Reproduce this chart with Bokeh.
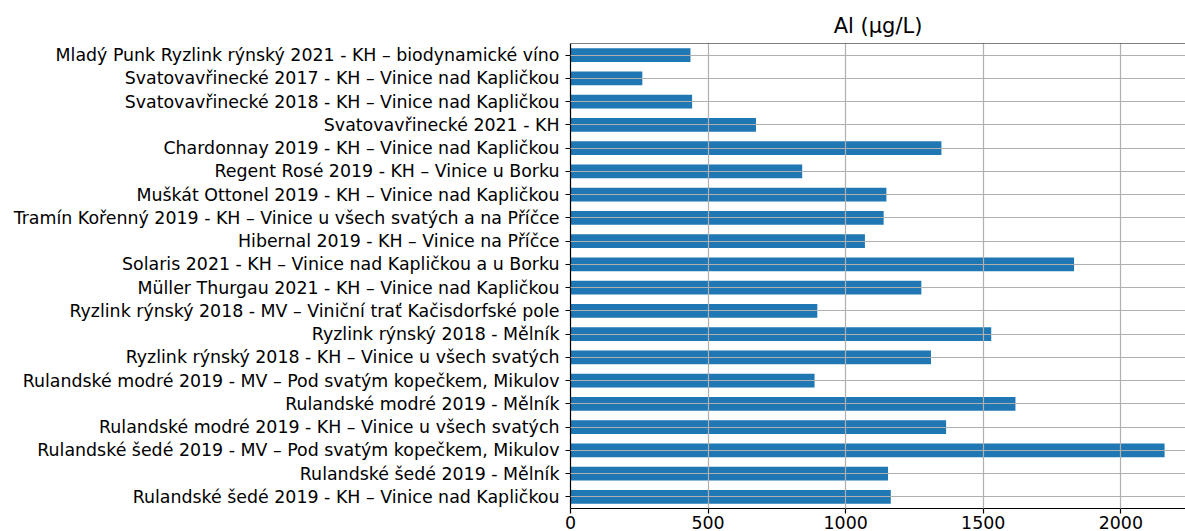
from bokeh.plotting import figure
from bokeh.models import Range1d, FixedTicker, Span, ColumnDataSource
from bokeh.embed import file_html
from bokeh.resources import INLINE

labels = [
    "Mladý Punk Ryzlink rýnský 2021 - KH – biodynamické víno",
    "Svatovavřinecké 2017 - KH – Vinice nad Kapličkou",
    "Svatovavřinecké 2018 - KH – Vinice nad Kapličkou",
    "Svatovavřinecké 2021 - KH",
    "Chardonnay 2019 - KH – Vinice nad Kapličkou",
    "Regent Rosé 2019 - KH – Vinice u Borku",
    "Muškát Ottonel 2019 - KH – Vinice nad Kapličkou",
    "Tramín Kořenný 2019 - KH – Vinice u všech svatých a na Příčce",
    "Hibernal 2019 - KH – Vinice na Příčce",
    "Solaris 2021 - KH – Vinice nad Kapličkou a u Borku",
    "Müller Thurgau 2021 - KH – Vinice nad Kapličkou",
    "Ryzlink rýnský 2018 - MV – Viniční trať Kačisdorfské pole",
    "Ryzlink rýnský 2018 - Mělník",
    "Ryzlink rýnský 2018 - KH – Vinice u všech svatých",
    "Rulandské modré 2019 - MV – Pod svatým kopečkem, Mikulov",
    "Rulandské modré 2019 - Mělník",
    "Rulandské modré 2019 - KH – Vinice u všech svatých",
    "Rulandské šedé 2019 - MV – Pod svatým kopečkem, Mikulov",
    "Rulandské šedé 2019 - Mělník",
    "Rulandské šedé 2019 - KH – Vinice nad Kapličkou",
]
al_values = [436, 261, 442, 674, 1348, 842, 1148, 1138, 1070, 1830,
             1275, 897, 1529, 1310, 887, 1617, 1365, 2159, 1154, 1164]
x_ticks = [0, 500, 1000, 1500, 2000]
title_text = "Al (µg/L)"

n = len(labels)
positions = list(range(n))
src = ColumnDataSource(dict(y=positions, right=al_values))

FONT = "DejaVu Sans"

p = figure(
    frame_width=615, frame_height=465,
    min_border_left=570, min_border_right=0, min_border_top=43, min_border_bottom=0,
    x_range=Range1d(0, 2235), y_range=Range1d(n - 0.5, -0.5),
    output_backend="svg", toolbar_location=None, title=title_text,
)
p.hbar(y="y", right="right", left=0, height=0.6, source=src,
       fill_color="#1f77b4", line_color=None)

p.title.align = "center"
p.title.text_font = FONT
p.title.text_font_size = "21px"
p.title.text_font_style = "normal"
p.title.text_color = "black"
p.title.standoff = 11

p.outline_line_color = None
p.background_fill_color = "white"
p.border_fill_color = "white"

top_spine = Span(location=-0.5, dimension="width", line_color="black", line_width=1.2)
p.add_layout(top_spine)

p.yaxis.ticker = FixedTicker(ticks=positions)
p.yaxis.major_label_overrides = {i: lab for i, lab in enumerate(labels)}
p.xaxis.ticker = FixedTicker(ticks=x_ticks)

for ax in (p.xaxis, p.yaxis):
    ax.axis_line_color = "black"
    ax.axis_line_width = 1.2
    ax.major_tick_line_color = "black"
    ax.major_tick_line_width = 1.2
    ax.major_tick_in = 0
    ax.major_tick_out = 5
    ax.minor_tick_line_color = None
    ax.major_label_text_font = FONT
    ax.major_label_text_font_size = "17.4px"
    ax.major_label_text_color = "black"

p.yaxis.major_label_standoff = 6
p.xaxis.major_label_standoff = 2

p.xgrid.grid_line_color = "#b0b0b0"
p.ygrid.grid_line_color = "#b0b0b0"
p.xgrid.grid_line_width = 1.2
p.ygrid.grid_line_width = 1.2
p.xgrid.level = "annotation"
p.ygrid.level = "annotation"

open("out.html", "w").write(file_html(p, INLINE))
